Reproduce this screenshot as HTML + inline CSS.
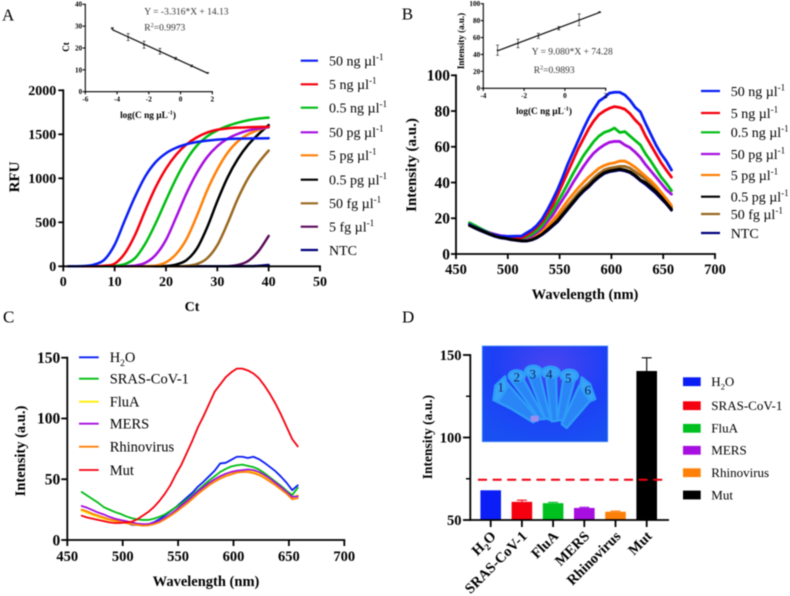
<!DOCTYPE html>
<html lang="en">
<head>
<meta charset="utf-8">
<title>Detection sensitivity and specificity charts</title>
<style>
html,body{margin:0;padding:0;background:#fff;width:790px;height:596px;overflow:hidden}
svg{display:block;font-family:"Liberation Serif",serif;filter:blur(0.4px)}
</style>
</head>
<body>
<svg id="fig" xmlns="http://www.w3.org/2000/svg" width="790" height="596" viewBox="0 0 790 596">
  <defs>
    <radialGradient id="gelBg" cx="0.55" cy="0.2" r="0.85">
      <stop offset="0" stop-color="#4a45f0"/>
      <stop offset="0.55" stop-color="#1c40f6"/>
      <stop offset="1" stop-color="#1a50f2"/>
    </radialGradient>
    <filter id="soft" x="-5%" y="-5%" width="110%" height="110%"><feGaussianBlur stdDeviation="0.6"/></filter>
  </defs>
  <g id="photo">
    <rect x="482.3" y="346" width="125.4" height="95.7" fill="url(#gelBg)" stroke="#3a8cf5" stroke-width="0.8"/>
    <g transform="translate(480 344) scale(0.3333)" filter="url(#soft)" fill="#2a86f6" stroke="#2f9cf8" stroke-width="7" stroke-linejoin="round">
      <path d="M45 170L75 110L175 225L160 235L95 195Z"/>
      <path d="M40 168L46 125L75 97L82 130L55 172Z" fill="#37a4f8"/>
      <path d="M92 108L130 105L195 225L180 226Z"/>
      <ellipse cx="110" cy="96" rx="24" ry="17" fill="#37a4f8"/>
      <path d="M145 95L180 95L212 228L195 222Z"/>
      <ellipse cx="160" cy="82" rx="25" ry="17" fill="#37a4f8"/>
      <path d="M198 95L228 95L232 230L215 232Z"/>
      <ellipse cx="212" cy="85" rx="27" ry="17" fill="#37a4f8"/>
      <path d="M250 105L285 105L250 230L232 228Z"/>
      <ellipse cx="268" cy="95" rx="26" ry="18" fill="#37a4f8"/>
      <path d="M298 125L335 165L260 252L245 240Z"/>
      <path d="M305 100L330 120L346 165L330 172L300 128Z" fill="#37a4f8"/>
      <rect x="152" y="215" width="24" height="18" fill="#9a8cf0" stroke="none"/>
    </g>
    <g font-size="13" fill="#10205c" text-anchor="middle">
      <text x="500.7" y="391.5">1</text>
      <text x="516.7" y="381.5">2</text>
      <text x="532.7" y="378.5">3</text>
      <text x="549.3" y="378.5">4</text>
      <text x="568.3" y="382.5">5</text>
      <text x="587.7" y="394.5">6</text>
    </g>
  </g>
</svg>
<script>
// ---------- Panel A data ----------
const qpcrCycles = [1,4,6,8,10,12,14,16,18,20,22,24,26,28,30,32,34,36,38,40];
const qpcr50ng  = [0,3,20,75,245,525,795,1025,1185,1285,1347,1387,1412,1428,1440,1447,1451,1453,1454,1455];
const qpcr5ng   = [0,0,1,6,30,148,360,640,900,1110,1270,1385,1465,1520,1552,1568,1576,1580,1583,1585];
const qpcr05ng  = [0,0,0,1,5,25,95,260,490,750,1000,1210,1370,1475,1545,1595,1632,1660,1678,1690];
const qpcr50pg  = [0,0,0,0,1,2,8,40,130,300,560,830,1060,1240,1365,1450,1505,1543,1565,1580];
const qpcr5pg   = [0,0,0,0,0,0,1,2,8,45,140,310,570,860,1100,1290,1420,1500,1550,1585];
const qpcr05pg  = [0,0,0,0,0,0,0,0,0,3,20,70,200,440,740,1010,1220,1380,1500,1605];
const qpcr50fg  = [0,0,0,0,0,0,0,0,0,0,0,5,25,90,240,490,770,1000,1175,1315];
const qpcr5fg   = [0,0,0,0,0,0,0,0,0,0,0,0,0,0,0,0,15,60,170,345];
const qpcrNtc   = [0,0,0,0,0,0,0,0,0,0,0,0,0,0,0,0,0,2,5,15];
const aXTicks = [0,10,20,30,40,50];
const aYTicks = [0,500,1000,1500,2000];
const concLabels = ["50 ng µl^{-1}","5 ng µl^{-1}","0.5 ng µl^{-1}","50 pg µl^{-1}","5 pg µl^{-1}","0.5 pg µl^{-1}","50 fg µl^{-1}","5 fg µl^{-1}","NTC"];

// Inset A data
const insetALogC = [-4.3,-3.3,-2.3,-1.3,-0.3,0.7,1.7];
const insetACt   = [29,25,21.5,18.5,15.2,11.8,8.6];
const insetAErr  = [0.3,1.6,1.6,1.3,0.5,0.4,0.2];
const insetASlope = -3.316;
const insetAIntercept = 14.13;
const insetAXTicks = [-6,-4,-2,0,2];
const insetAYTicks = [0,10,20,30,40];

// ---------- Panel B data ----------
const wavelengths = [463,468,473,478,483,488,493,498,503,508,513,518,523,528,533,538,543,548,553,558,563,568,573,578,583,588,593,598,603,608,613,618,623,628,633,638,643,648,653,658];
const spec50ng  = [16.5,15,13.8,12.5,11.2,10.5,10,9.8,9.9,10,10,11.8,13.5,16,19.5,24.5,30,36,43,50.5,57,63.5,70,76,81,85.5,87.5,90,90.5,90.5,89,86,82,79.5,73,67,61,56,52,47];
const spec5ng   = [16.5,15,13.8,12.5,11.2,10.4,9.8,9.5,9.5,9.3,9,10.5,12.5,15,18,22.5,27,33,39.5,46,52.5,59,64.5,70,74.5,78,80,81.5,82.5,82,81,78.5,75,72,66,61,56,51,47,43];
const spec05ng  = [17.5,16,14.5,13,11.5,10.5,9.8,9.3,9,8.8,8.8,9.5,11,13,16,20,24,29,34,39.5,45,50,55,59,63,66,68,69,70.5,68,68.5,66,63.5,61,56,52,47.5,43,39.5,35.5];
const spec50pg  = [17,15.5,14.2,13,11.8,11,10.3,10,9.5,9,8.5,9,10,12,14.5,18,21.5,26,30.5,35,40,44.5,49,53,56.5,59,61,62.5,63,63,61,59.5,57,54,50,46.5,43,39.5,36,33.5];
const spec5pg   = [16.5,15,13.8,12.5,11.2,10.3,9.5,9,8.5,8,7.5,8,9,10.5,13,15.5,18.5,22,26,30,33.5,37,40,43,45.5,48,49.5,50.5,51,52,52,50.5,48.5,46,43.5,41,38,34.5,31,27];
const spec05pg  = [16,14.8,13.5,12.3,11,10,9.2,8.8,8.2,7.8,7.5,7.3,8,9.3,11,13.5,16,18.5,22,25.5,29,32.5,35.5,38,41,43.5,45.5,46.5,47,47.5,47,46,44,41.5,40,37.5,35,32,28.5,25];
const spec50fg  = [16,14.8,13.5,12.4,11.1,10.2,9.4,8.9,8.4,8,7.6,7.8,8.5,10,12,14.5,17,20,23.5,27,30.5,34,37,39.5,42.5,45,47,48,48.5,49,49,48,46,44,42,39.5,36.5,33,29.5,26];
const specNtc   = [16,14.5,13.2,12,10.8,9.8,9,8.6,8,7.6,7.2,7.2,7.8,9,10.8,13,15.5,18,21.5,25,28.5,32,35,37.5,40.5,43,45,46,46.5,47,46.5,45.5,43.5,41,39,36.5,34,31,28,24.5];
const bXTicks = [450,500,550,600,650,700];
const bYTicks = [0,20,40,60,80,100];
const bLabels = ["50 ng µl^{-1}","5 ng µl^{-1}","0.5 ng µl^{-1}","50 pg µl^{-1}","5 pg µl^{-1}","0.5 pg µl^{-1}","50 fg µl^{-1}","NTC"];

// Inset B data
const insetBLogC = [-3.3,-2.3,-1.3,-0.3,0.7,1.7];
const insetBInt  = [45,53,62,71,81,90];
const insetBErr  = [6,5,3,2,7,0.5];
const insetBSlope = 9.08;
const insetBIntercept = 74.28;
const insetBXTicks = [-4,-2,0,2];
const insetBYTicks = [0,20,40,60,80,100];

// ---------- Panel C data ----------
const specH2O   = [24.5,22.5,21,19,18,16.5,16,16,14.5,12.5,12.5,12.5,13,14.5,17,20,23.5,27,31,35,39,44,48,52.5,57,63,63.5,66,68.5,68.5,67.5,68.5,66.5,63.5,60,56.5,52,47,41,45];
const specSras  = [39.5,36.5,33.5,30.5,27,25,23,21.5,19.5,18,17,16.5,16.5,17.5,19,21,24,27,30,33.5,37,41,45,49,52.5,56,58.5,60.5,61.5,62,61,60,58,55,51.5,48,44.5,40.5,37,43];
const specFluA  = [24,22.5,20.5,19,17.5,16.5,15.5,15,14,13,12.5,12,12.5,13.5,15.5,18,21,24.5,28,31.5,35.5,39.5,43,46.5,49.5,52,54,55.5,56.5,57,57,56,54.5,52,49,46,42.5,38.5,34.5,37];
const specMers  = [28,26.5,24.5,22.5,21,19,17.5,16.5,15.5,14.5,13.5,13,13,14,15.5,18,21,24.5,28.5,32,36,40,43.5,47,50,52.5,54.5,56,57,57.5,58,57.5,56,53.5,50.5,47,43.5,39.5,35.5,36];
const specRhino = [25,23.5,21.5,20,18.5,17,16,15,14,13,12.5,11.8,12,13,14.5,17,20,23,26.5,30,34,38,41.5,45,48,50.5,52.5,54,55.5,56,56,55,53.5,51,48,45,41.5,38,33.5,34.5];
const specMut   = [20,18.5,17.5,16.5,15.5,14.5,14,14,14.5,15,17,20,23,27,32,38,45,54,62,72,82,93,102,112,122,128,134,138,141,141,139.5,137,133,127,120,112,103,93,83,77];
const cXTicks = [450,500,550,600,650,700];
const cYTicks = [0,50,100,150];
const targetLabels = ["H_{2}O","SRAS-CoV-1","FluA","MERS","Rhinovirus","Mut"];

// ---------- Panel D data ----------
const barValues = [68,61,60.2,57.3,55,140.3];
const barErrors = [0,1,0.5,0.4,0.4,8];
const barThreshold = 74.4;
const dYTicks = [50,100,150];
const dYMinorTicks = [75,125];

const colBlue="#0a1ef5", colRed="#f5000f", colGreen="#00bd12", colPurple="#a60fe0", colOrange="#ff8008", colBlack="#000000", colBrown="#9a6820", colPlum="#5c0c5c", colNavy="#00007c", colYellow="#ffee00";

const SVGNS = "http://www.w3.org/2000/svg";
const root = document.getElementById("fig");

function make(tag, parent, name, attrs){
  const el = document.createElementNS(SVGNS, tag);
  
  
  for(const k in attrs){ el.setAttribute(k, attrs[k]); }
  parent.appendChild(el);
  return el;
}
function linear(d0,d1,r0,r1){ return v => r0 + (v-d0)*(r1-r0)/(d1-d0); }

function rich(el, str, size){
  const re = /([\^_])\{(.*?)\}/g;
  let last = 0, m, pending = 0;
  function plain(s){
    if(!s) return;
    const t = document.createElementNS(SVGNS,"tspan");
    if(pending){ t.setAttribute("dy", pending); pending = 0; }
    t.textContent = s;
    el.appendChild(t);
  }
  while((m = re.exec(str))){
    plain(str.slice(last, m.index));
    const t = document.createElementNS(SVGNS,"tspan");
    const shift = (m[1]==="^" ? -0.38 : 0.25) * size;
    t.setAttribute("dy", shift + pending);
    t.setAttribute("font-size", size*0.65);
    t.textContent = m[2];
    el.appendChild(t);
    pending = -shift;
    last = m.index + m[0].length;
  }
  plain(str.slice(last));
}

function text(parent, name, x, y, str, o){
  o = o || {};
  const size = o.size || 14;
  const attrs = {x:x, y:y, "font-size":size, fill:o.fill||"#000"};
  if(o.bold) attrs["font-weight"] = "bold";
  if(o.anchor) attrs["text-anchor"] = o.anchor;
  if(o.rotate!==undefined) attrs.transform = "rotate("+o.rotate+" "+x+" "+y+")";
  const t = make("text", parent, name, attrs);
  rich(t, str, size);
  return t;
}

function axes(parent, prefix, sx, sy, xTicks, yTicks, o){
  const w = o.width, tl = o.tick, fs = o.fontSize, fsY = o.fontSizeY || fs;
  const x0 = sx(xTicks[0]), x1 = sx(xTicks[xTicks.length-1]);
  const y0 = sy(yTicks[0]), y1 = sy(yTicks[yTicks.length-1]);
  make("line", parent, prefix+"-x-axis", {x1:x0-w/2,y1:y0,x2:x1+w/2,y2:y0,stroke:"#000","stroke-width":w});
  make("line", parent, prefix+"-y-axis", {x1:x0,y1:y0,x2:x0,y2:y1-w/2,stroke:"#000","stroke-width":w});
  xTicks.forEach(v=>{
    make("line", parent, prefix+"-x-tick", {x1:sx(v),y1:y0,x2:sx(v),y2:y0+tl,stroke:"#000","stroke-width":w});
    text(parent, prefix+"-x-tick-label", sx(v), y0+tl+fs*0.98+(o.xGap||0), String(v), {size:fs,bold:true,anchor:"middle"});
  });
  yTicks.forEach(v=>{
    make("line", parent, prefix+"-y-tick", {x1:x0-tl,y1:sy(v),x2:x0,y2:sy(v),stroke:"#000","stroke-width":w});
    text(parent, prefix+"-y-tick-label", x0-tl-(o.yGap||1), sy(v)+fsY*0.34, String(v), {size:fsY,bold:true,anchor:"end"});
  });
}

function smoothPath(pts){
  let d = "M"+pts[0][0].toFixed(2)+" "+pts[0][1].toFixed(2);
  for(let i=0;i<pts.length-1;i++){
    const p0=pts[Math.max(0,i-1)],p1=pts[i],p2=pts[i+1],p3=pts[Math.min(pts.length-1,i+2)];
    const c1x=p1[0]+(p2[0]-p0[0])/6, c1y=Math.min(p1[1]+(p2[1]-p0[1])/6, Math.max(p1[1],p2[1]));
    const c2x=p2[0]-(p3[0]-p1[0])/6, c2y=Math.min(p2[1]-(p3[1]-p1[1])/6, Math.max(p1[1],p2[1]));
    d+="C"+c1x.toFixed(2)+" "+c1y.toFixed(2)+" "+c2x.toFixed(2)+" "+c2y.toFixed(2)+" "+p2[0].toFixed(2)+" "+p2[1].toFixed(2);
  }
  return d;
}
function polyPath(pts){
  return "M"+pts.map(p=>p[0].toFixed(2)+" "+p[1].toFixed(2)).join("L");
}
function drawSeries(parent, name, xs, ys, sx, sy, color, width, smooth){
  const pts = xs.map((x,i)=>[sx(x), sy(ys[i])]);
  make("path", parent, name, {d:(smooth?smoothPath:polyPath)(pts),fill:"none",stroke:color,"stroke-width":width,"stroke-linejoin":"round","stroke-linecap":"round"});
}
function lineLegend(parent, prefix, labels, colors, ys, x0, x1, tx, size, lw){
  labels.forEach((lab,i)=>{
    const g = make("g", parent, prefix+"-legend-entry", {});
    make("line", g, prefix+"-legend-swatch", {x1:x0,y1:ys[i],x2:x1,y2:ys[i],stroke:colors[i],"stroke-width":lw});
    text(g, prefix+"-legend-label", tx, ys[i]+size*0.34, lab, {size:size});
  });
}
function inset(parent, prefix, sx, sy, xs, ys, es, slope, intercept, xTicks, yTicks){
  axes(parent, prefix, sx, sy, xTicks, yTicks, {width:1.1,tick:2.6,fontSize:7.2,yGap:0.5});
  const xa = xs[0], xb = xs[xs.length-1];
  make("line", parent, prefix+"-fit-line", {x1:sx(xa),y1:sy(slope*xa+intercept),x2:sx(xb),y2:sy(slope*xb+intercept),stroke:"#111","stroke-width":1.2});
  xs.forEach((x,i)=>{
    const px = sx(x), t = sy(ys[i]+es[i]), b = sy(ys[i]-es[i]);
    make("line", parent, prefix+"-error-bar", {x1:px,y1:t,x2:px,y2:b,stroke:"#333","stroke-width":0.7});
    make("line", parent, prefix+"-error-cap-top", {x1:px-1.5,y1:t,x2:px+1.5,y2:t,stroke:"#333","stroke-width":0.7});
    make("line", parent, prefix+"-error-cap-bottom", {x1:px-1.5,y1:b,x2:px+1.5,y2:b,stroke:"#333","stroke-width":0.7});
    make("circle", parent, prefix+"-point", {cx:px,cy:sy(ys[i]),r:0.9,fill:"#111"});
  });
}

// ---------- Panel A ----------
(function(){
  const g = make("g", root, "panel-a", {});
  text(g,"panel-a-letter",2,20.7,"A",{size:17});
  const sx = linear(0,50,63.3,320), sy = linear(0,2000,266.3,90.3);
  const names=["curve-5fg","curve-ntc","curve-50fg","curve-0-5pg","curve-5pg","curve-50pg","curve-0-5ng","curve-5ng","curve-50ng"];
  const series=[qpcr5fg,qpcrNtc,qpcr50fg,qpcr05pg,qpcr5pg,qpcr50pg,qpcr05ng,qpcr5ng,qpcr50ng];
  const cols=[colPlum,colNavy,colBrown,colBlack,colOrange,colPurple,colGreen,colRed,colBlue];
  series.forEach((s,i)=>drawSeries(g,names[i],qpcrCycles,s,sx,sy,cols[i],2.5,true));
  axes(g,"a",sx,sy,aXTicks,aYTicks,{width:1.8,tick:5,fontSize:14,yGap:2,xGap:1});
  text(g,"a-y-axis-title",19,177,"RFU",{size:15,bold:true,anchor:"middle",rotate:-90});
  text(g,"a-x-axis-title",192,311,"Ct",{size:14,bold:true,anchor:"middle"});
  lineLegend(g,"a",concLabels,[colBlue,colRed,colGreen,colPurple,colOrange,colBlack,colBrown,colPlum,colNavy],[60.7,84.3,107.7,132.3,155.3,179.7,203.3,226.7,250],300.7,318,329,14,2.2);
  const ig = make("g", g, "a-inset", {});
  inset(ig,"a-inset",linear(-6,2,85.3,212.3),linear(0,40,91.7,4.3),insetALogC,insetACt,insetAErr,insetASlope,insetAIntercept,insetAXTicks,insetAYTicks);
  text(ig,"a-inset-y-title",69,47,"Ct",{size:9,bold:true,anchor:"middle",rotate:-90});
  text(ig,"a-inset-x-title",148,118,"log(C ng µL^{-1})",{size:9.3,bold:true,anchor:"middle"});
  text(ig,"a-inset-equation",144.3,14.7,"Y = -3.316*X + 14.13",{size:9.5,fill:"#333"});
  text(ig,"a-inset-r-squared",144.3,30.7,"R^{2}=0.9973",{size:9.5,fill:"#333"});
})();

// ---------- Panel B ----------
(function(){
  const g = make("g", root, "panel-b", {});
  text(g,"panel-b-letter",401.7,19.3,"B",{size:17});
  const sx = linear(450,700,456,715), sy = linear(0,100,254,75.3);
  const names=["spectrum-ntc","spectrum-50fg","spectrum-5pg","spectrum-50pg","spectrum-0-5ng","spectrum-5ng","spectrum-50ng","spectrum-0-5pg"];
  const series=[specNtc,spec50fg,spec5pg,spec50pg,spec05ng,spec5ng,spec50ng,spec05pg];
  const cols=[colNavy,colBrown,colOrange,colPurple,colGreen,colRed,colBlue,colBlack];
  series.forEach((s,i)=>drawSeries(g,names[i],wavelengths,s,sx,sy,cols[i],2.8,false));
  axes(g,"b",sx,sy,bXTicks,bYTicks,{width:1.8,tick:5,fontSize:14.5,fontSizeY:15.5,yGap:1,xGap:1});
  text(g,"b-y-axis-title",416,165,"Intensity (a.u.)",{size:15,bold:true,anchor:"middle",rotate:-90});
  text(g,"b-x-axis-title",585,299,"Wavelength (nm)",{size:14.5,bold:true,anchor:"middle"});
  lineLegend(g,"b",bLabels,[colBlue,colRed,colGreen,colPurple,colOrange,colBlack,colBrown,colNavy],[91,113,132.3,154,175,196.7,214,233],701,720,730.7,14,2.2);
  const ig = make("g", g, "b-inset", {});
  inset(ig,"b-inset",linear(-4,2,483.3,605.7),linear(0,100,88.3,3.7),insetBLogC,insetBInt,insetBErr,insetBSlope,insetBIntercept,insetBXTicks,insetBYTicks);
  text(ig,"b-inset-y-title",464,41,"Intensity (a.u.)",{size:9,bold:true,anchor:"middle",rotate:-90});
  text(ig,"b-inset-x-title",544,114,"log(C ng µL^{-1})",{size:9.3,bold:true,anchor:"middle"});
  text(ig,"b-inset-equation",531.7,54.5,"Y = 9.080*X + 74.28",{size:9.5,fill:"#333"});
  text(ig,"b-inset-r-squared",533.7,73,"R^{2}=0.9893",{size:9.5,fill:"#333"});
})();

// ---------- Panel C ----------
(function(){
  const g = make("g", root, "panel-c", {});
  text(g,"panel-c-letter",3,322.7,"C",{size:17});
  const sx = linear(450,700,67.3,344.3), sy = linear(0,150,540,357.7);
  const names=["spectrum-h2o","spectrum-sras-cov-1","spectrum-flua","spectrum-mers","spectrum-rhinovirus","spectrum-mut"];
  const series=[specH2O,specSras,specFluA,specMers,specRhino,specMut];
  const cols=[colBlue,colGreen,colYellow,colPurple,colOrange,colRed];
  series.forEach((s,i)=>drawSeries(g,names[i],wavelengths,s,sx,sy,cols[i],1.8,false));
  axes(g,"c",sx,sy,cXTicks,cYTicks,{width:1.8,tick:6,fontSize:14.5,fontSizeY:15.5,yGap:1,xGap:1});
  text(g,"c-y-axis-title",25,451,"Intensity (a.u.)",{size:14.5,bold:true,anchor:"middle",rotate:-90});
  text(g,"c-x-axis-title",206,586,"Wavelength (nm)",{size:14.5,bold:true,anchor:"middle"});
  lineLegend(g,"c",targetLabels,cols,[357.3,378.7,401.7,423.7,446.7,470],79,98.7,109.7,14.5,1.8);
})();

// ---------- Panel D ----------
(function(){
  const g = make("g", root, "panel-d", {});
  text(g,"panel-d-letter",402,322.7,"D",{size:17});
  const sy = linear(50,150,520,355);
  const xAt = i => 490.7 + i*31.2;
  const cols=[colBlue,colRed,"#00c020",colPurple,colOrange,colBlack];
  barValues.forEach((v,i)=>{
    make("rect", g, "bar-"+i, {x:xAt(i)-10.3,y:sy(v),width:20.6,height:sy(50)-sy(v),fill:cols[i]});
    if(barErrors[i] > 0){
      const top = sy(v+barErrors[i]);
      make("line", g, "bar-error-"+i, {x1:xAt(i),y1:sy(v),x2:xAt(i),y2:top,stroke:cols[i],"stroke-width":1.1});
      make("line", g, "bar-error-cap-"+i, {x1:xAt(i)-5,y1:top,x2:xAt(i)+5,y2:top,stroke:cols[i],"stroke-width":1.1});
    }
  });
  make("line", g, "threshold-line", {x1:478,y1:sy(barThreshold),x2:667.7,y2:sy(barThreshold),stroke:"#f00010","stroke-width":2,"stroke-dasharray":"9 5.6"});
  make("line", g, "d-y-axis", {x1:470.3,y1:sy(50)+0.9,x2:470.3,y2:sy(150)-0.9,stroke:"#000","stroke-width":1.8});
  make("line", g, "d-x-axis", {x1:469.4,y1:sy(50),x2:669,y2:sy(50),stroke:"#000","stroke-width":1.8});
  dYTicks.forEach(v=>{
    make("line", g, "d-y-tick", {x1:463,y1:sy(v),x2:470.3,y2:sy(v),stroke:"#000","stroke-width":1.8});
    text(g,"d-y-tick-label",461.5,sy(v)+5,String(v),{size:14.5,bold:true,anchor:"end"});
  });
  dYMinorTicks.forEach(v=>{
    make("line", g, "d-y-minor-tick", {x1:466,y1:sy(v),x2:470.3,y2:sy(v),stroke:"#000","stroke-width":1.5});
  });
  targetLabels.forEach((lab,i)=>{
    make("line", g, "d-x-tick", {x1:xAt(i),y1:sy(50),x2:xAt(i),y2:sy(50)+7,stroke:"#000","stroke-width":1.8});
    text(g,"d-x-tick-label",xAt(i)+6,537,lab,{size:14.5,bold:true,anchor:"end",rotate:-45});
  });
  text(g,"d-y-axis-title",432,437,"Intensity (a.u.)",{size:13.5,bold:true,anchor:"middle",rotate:-90});
  const ly=[381.7,405.7,428.3,450.3,472.7,495];
  targetLabels.forEach((lab,i)=>{
    const e = make("g", g, "d-legend-entry", {});
    make("rect", e, "d-legend-swatch", {x:683,y:ly[i]-4.4,width:17.7,height:8.8,fill:cols[i]});
    text(e,"d-legend-label",711.3,ly[i]+4.4,lab,{size:13});
  });
})();
</script>
</body>
</html>
